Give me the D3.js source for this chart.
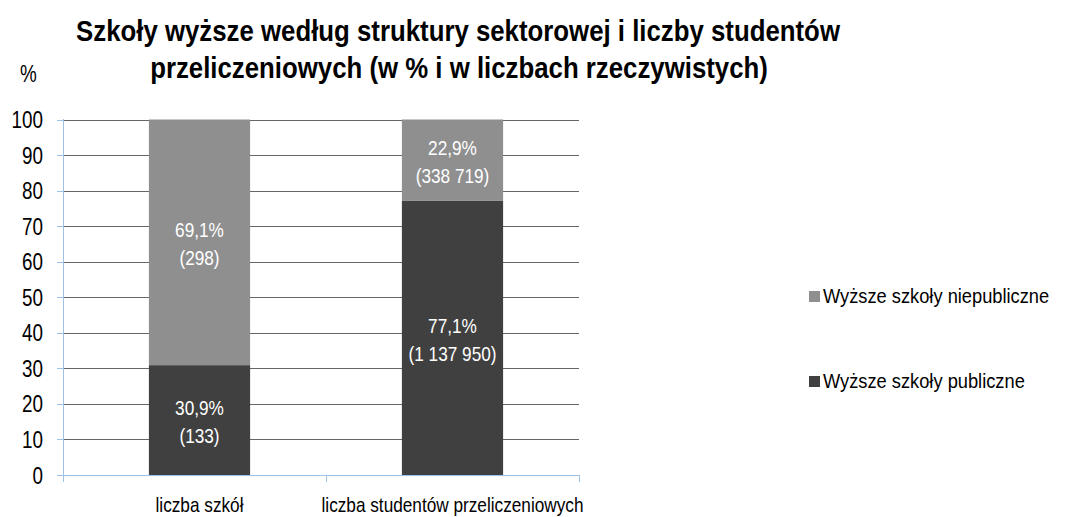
<!DOCTYPE html>
<html><head><meta charset="utf-8">
<script src="https://cdn.jsdelivr.net/npm/d3@7"></script>
<style>
body{margin:0;background:#fff;}
text{font-family:"Liberation Sans",Arial,sans-serif;}
</style></head>
<body><svg id="c" width="1070" height="517"></svg>
<script>
const categories = ["liczba szkół", "liczba studentów przeliczeniowych"];
const seriesNames = ["Wyższe szkoły publiczne", "Wyższe szkoły niepubliczne"];
const publicPct = [30.9, 77.1];
const nonPublicPct = [69.1, 22.9];
const publicCount = ["133", "1 137 950"];
const nonPublicCount = ["298", "338 719"];
const yTicks = [0,10,20,30,40,50,60,70,80,90,100];
const colors = ["#404040", "#8f8f8f"];

const svg = d3.select("#c");
const y = d3.scaleLinear().domain([0,100]).range([475,119.5]);
const x = d3.scaleBand().domain(categories).range([73,579]).paddingInner(0.6).paddingOuter(0.3);
const axisColor = "#9dc3e6";

// narrow text helper
function ntext(parent, tx, ty, str, size, sx, anchor, opts={}){
  const t = parent.append("text")
    .attr("transform",`translate(${tx},${ty}) scale(${sx},1)`)
    .attr("text-anchor",anchor||"start").attr("font-size",size)
    .attr("fill",opts.fill||"#000").text(str);
  if(opts.bold) t.attr("font-weight","bold");
  return t;
}

// gridlines
svg.append("g").selectAll("line").data(yTicks.filter(d=>d>0)).join("line")
  .attr("x1",63).attr("x2",579).attr("y1",d=>Math.round(y(d))+0.5).attr("y2",d=>Math.round(y(d))+0.5)
  .attr("stroke","#666").attr("stroke-width",1);

// stacked bars
const stackData = categories.map((c,i)=>({cat:c, pub:publicPct[i], non:nonPublicPct[i]}));
const stack = d3.stack().keys(["pub","non"])(stackData);
const labelsTxt = [publicPct.map((v,i)=>[String(v).replace(".",",")+"%","("+publicCount[i]+")"]),
                   nonPublicPct.map((v,i)=>[String(v).replace(".",",")+"%","("+nonPublicCount[i]+")"])];
stack.forEach((s,si)=>{
  const g = svg.append("g");
  g.selectAll("rect").data(s).join("rect")
    .attr("x",d=>x(d.data.cat)).attr("width",x.bandwidth())
    .attr("y",d=>y(d[1])).attr("height",d=>y(d[0])-y(d[1]))
    .attr("fill",colors[si]);
  s.forEach((d,i)=>{
    const cy = (y(d[0])+y(d[1]))/2;
    const cx = x(d.data.cat)+x.bandwidth()/2;
    ntext(g, cx, cy-5, labelsTxt[si][i][0], 21, 0.82, "middle", {fill:"#fff"});
    ntext(g, cx, cy+23, labelsTxt[si][i][1], 21, 0.82, "middle", {fill:"#fff"});
  });
});

// y axis
const ya = svg.append("g");
ya.append("line").attr("x1",63.5).attr("x2",63.5).attr("y1",119).attr("y2",482).attr("stroke",axisColor);
ya.selectAll("line.t").data(yTicks).join("line").attr("class","t")
  .attr("x1",57).attr("x2",63).attr("y1",d=>Math.round(y(d))+0.5).attr("y2",d=>Math.round(y(d))+0.5).attr("stroke",axisColor);
yTicks.forEach(d=>ntext(ya, 43, y(d)+8.5, String(d), 23, 0.82, "end"));

// x axis
const xa = svg.append("g");
xa.append("line").attr("x1",63).attr("x2",579).attr("y1",475.5).attr("y2",475.5).attr("stroke",axisColor);
const bounds = [63, x.range()[0] + x.step()*1, 579];
xa.selectAll("line.t").data(bounds).join("line").attr("class","t")
  .attr("x1",d=>Math.round(d)+0.5).attr("x2",d=>Math.round(d)+0.5).attr("y1",475).attr("y2",482).attr("stroke",axisColor);
categories.forEach(c=>ntext(xa, x(c)+x.bandwidth()/2, 512, c, 21, 0.82, "middle"));

// title
ntext(svg, 458, 41, "Szkoły wyższe według struktury sektorowej i liczby studentów", 30, 0.86, "middle", {bold:true});
ntext(svg, 459, 78, "przeliczeniowych (w % i w liczbach rzeczywistych)", 30, 0.86, "middle", {bold:true});
ntext(svg, 20, 82, "%", 23, 0.82, "start");

// legend
const leg = [{n:seriesNames[1],c:colors[1],y:303},{n:seriesNames[0],c:colors[0],y:388}];
const lg = svg.append("g");
leg.forEach(d=>{
  lg.append("rect").attr("x",809).attr("y",d.y-12).attr("width",11).attr("height",11).attr("fill",d.c);
  ntext(lg, 823, d.y, d.n, 21, 0.87, "start");
});
</script></body></html>
